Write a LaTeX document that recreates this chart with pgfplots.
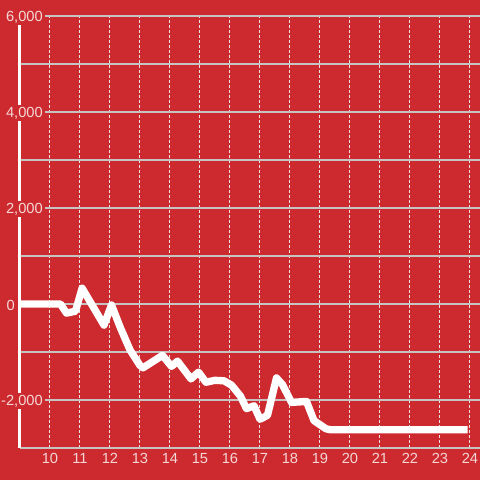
\documentclass[border=0pt]{standalone}
\usepackage{fontspec}
\setmainfont{Liberation Sans}
\usepackage{pgfplots}
\pgfplotsset{compat=1.18}
\definecolor{bgred}{RGB}{204,42,46}
\definecolor{gridgrey}{RGB}{200,195,195}
\definecolor{dotgrey}{RGB}{235,228,228}
\definecolor{labelc}{RGB}{245,215,215}
\begin{document}
\begin{tikzpicture}
\begin{axis}[
  set layers=standard,
  at={(15pt,24pt)}, anchor=south west,
  scale only axis, width=345pt, height=324pt,
  xmin=9, xmax=24.3333, ymin=-3000, ymax=6000,
  clip=false,
  axis x line*=bottom, axis y line*=left,
  x axis line style={draw=none},
  y axis line style={white, line width=2.25pt, -},
  xtick={10,...,24},
  ytick={-2000,2000,4000,6000},
  minor ytick={-3000,-1000,1000,3000,5000},
  extra y ticks={0}, extra y tick labels={0},
  extra y tick style={grid=major, major grid style={white, line width=2.25pt},
    yticklabel style={xshift=-21pt}},
  major tick length=0pt, minor tick length=0pt,
  xmajorgrids, ymajorgrids, yminorgrids,
  major x grid style={draw=dotgrey, line width=0.75pt, dash pattern=on 2.25pt off 1.5pt},
  major y grid style={draw=gridgrey, line width=0.8pt},
  minor y grid style={draw=gridgrey, line width=0.8pt},
  ticklabel style={font=\fontsize{11}{13}\selectfont, text=labelc, fill=bgred},
  yticklabel style={anchor=east, inner sep=1.5pt, xshift=18.75pt, yshift=-0.8pt},
  xticklabel style={inner sep=1pt, yshift=-3pt},
  /pgf/number format/assume math mode=true,
  /pgf/number format/1000 sep={,},
]
\begin{pgfonlayer}{axis background}
\fill[bgred] ([shift={(-15pt,-24pt)}]rel axis cs:0,0) rectangle ([shift={(0pt,12pt)}]rel axis cs:1,1);
\end{pgfonlayer}
\addplot[white, line width=5.5pt, line join=round] coordinates {
(9.00,0) (10.35,0) (10.55,-190) (10.85,-150) (11.07,330)
(11.80,-440) (12.05,-20) (12.35,-500) (12.67,-960) (13.00,-1280)
(13.10,-1330) (13.75,-1070) (14.05,-1300) (14.25,-1190) (14.70,-1560)
(14.95,-1420) (15.20,-1630) (15.50,-1590) (15.80,-1600) (16.05,-1690)
(16.35,-1920) (16.55,-2180) (16.80,-2120) (17.00,-2400) (17.25,-2320)
(17.55,-1540) (17.75,-1680) (18.05,-2050) (18.55,-2030) (18.80,-2430)
(19.20,-2600) (19.35,-2620) (23.92,-2620)
};
\end{axis}
\pgfresetboundingbox
\useasboundingbox (0pt,0pt) rectangle (360pt,360pt);
\end{tikzpicture}
\end{document}
